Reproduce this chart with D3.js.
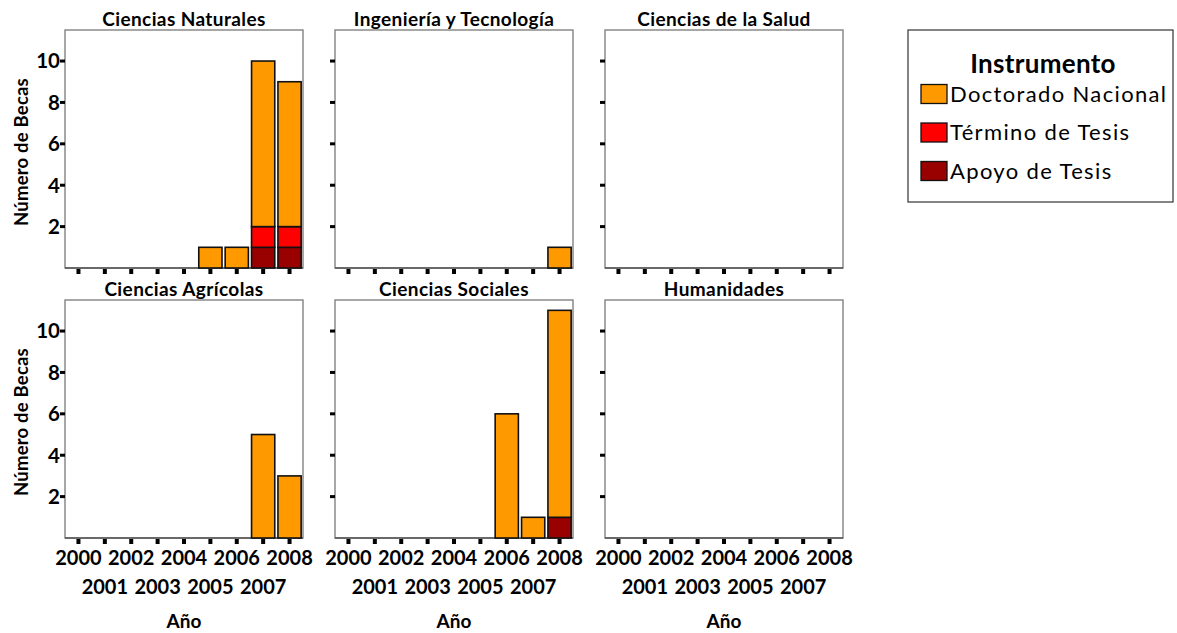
<!DOCTYPE html>
<html><head><meta charset="utf-8">
<script src="https://cdn.jsdelivr.net/npm/d3@7"></script>
<style>body{margin:0;background:#fff}svg{display:block}text{font-family:Lato,"Open Sans",sans-serif}</style>
</head><body><div id="chart"></div>
<script>
const years = ["2000","2001","2002","2003","2004","2005","2006","2007","2008"];
const panels = ["Ciencias Naturales","Ingeniería y Tecnología","Ciencias de la Salud","Ciencias Agrícolas","Ciencias Sociales","Humanidades"];
const seriesNames = ["Apoyo de Tesis","Término de Tesis","Doctorado Nacional"];
const colors = ["#990000","#FF0000","#FF9900"];
// values per panel, per year
const doctoradoNacional = [
  [0,0,0,0,0,1,1,8,7],
  [0,0,0,0,0,0,0,0,1],
  [0,0,0,0,0,0,0,0,0],
  [0,0,0,0,0,0,0,5,3],
  [0,0,0,0,0,0,6,1,10],
  [0,0,0,0,0,0,0,0,0]
];
const terminoTesis = [
  [0,0,0,0,0,0,0,1,1],
  [0,0,0,0,0,0,0,0,0],
  [0,0,0,0,0,0,0,0,0],
  [0,0,0,0,0,0,0,0,0],
  [0,0,0,0,0,0,0,0,0],
  [0,0,0,0,0,0,0,0,0]
];
const apoyoTesis = [
  [0,0,0,0,0,0,0,1,1],
  [0,0,0,0,0,0,0,0,0],
  [0,0,0,0,0,0,0,0,0],
  [0,0,0,0,0,0,0,0,0],
  [0,0,0,0,0,0,0,0,1],
  [0,0,0,0,0,0,0,0,0]
];
const yTicks = [2,4,6,8,10];
const legendOrder = ["Doctorado Nacional","Término de Tesis","Apoyo de Tesis"];

const W = 1177, H = 633;
const svg = d3.select("#chart").append("svg").attr("width", W).attr("height", H);
const pw = 238, ph = 238;
const colX = [65, 335, 605], rowY = [30, 300];
const color = d3.scaleOrdinal().domain(seriesNames).range(colors);

panels.forEach((name, i) => {
  const col = i % 3, row = Math.floor(i / 3);
  const x0 = colX[col], y0 = rowY[row];
  const x = d3.scaleBand().domain(years).range([x0, x0 + pw]).paddingInner(0.12).paddingOuter(0.07);
  const y = d3.scaleLinear().domain([0, 11.5]).range([y0 + ph, y0]);
  const g = svg.append("g");

  // frame
  g.append("rect").attr("x", x0).attr("y", y0).attr("width", pw).attr("height", ph)
    .attr("fill", "#fff").attr("stroke", "#8a8a8a").attr("stroke-width", 1.5);
  g.append("line").attr("x1", x0).attr("x2", x0 + pw).attr("y1", y0 + ph).attr("y2", y0 + ph)
    .attr("stroke", "#555").attr("stroke-width", 1.5);

  // data
  const rows = years.map((yr, j) => ({
    year: yr,
    "Apoyo de Tesis": apoyoTesis[i][j],
    "Término de Tesis": terminoTesis[i][j],
    "Doctorado Nacional": doctoradoNacional[i][j]
  }));
  const stacked = d3.stack().keys(seriesNames)(rows);
  stacked.forEach(layer => {
    g.append("g").selectAll("rect")
      .data(layer.filter(d => d[1] - d[0] > 0))
      .join("rect")
      .attr("x", d => x(d.data.year))
      .attr("width", x.bandwidth())
      .attr("y", d => y(d[1]))
      .attr("height", d => y(d[0]) - y(d[1]))
      .attr("fill", color(layer.key))
      .attr("stroke", "#111").attr("stroke-width", 1.6);
  });

  // x ticks
  g.append("g").selectAll("rect").data(years).join("rect")
    .attr("x", d => x(d) + x.bandwidth() / 2 - 2)
    .attr("y", y0 + ph + 1).attr("width", 4).attr("height", 5).attr("fill", "#000");
  // y ticks
  g.append("g").selectAll("rect").data(yTicks).join("rect")
    .attr("x", x0 - 5).attr("y", d => y(d) - 1.5).attr("width", 5).attr("height", 3).attr("fill", "#000");

  // title
  g.append("text").attr("x", x0 + pw / 2).attr("y", y0 - 4).attr("text-anchor", "middle")
    .attr("font-weight", "bold").attr("font-size", 19).attr("letter-spacing", 0.4).text(name);

  if (col === 0) {
    g.append("g").selectAll("text").data(yTicks).join("text")
      .attr("x", x0 - 5).attr("y", d => y(d)).attr("dy", "0.36em")
      .attr("text-anchor", "end").attr("font-weight", "bold").attr("font-size", 20.5)
      .text(d => d);
    g.append("text").attr("transform", `translate(28,${y0 + ph / 2 + 3}) rotate(-90)`)
      .attr("text-anchor", "middle").attr("font-weight", "bold").attr("font-size", 18.5)
      .attr("letter-spacing", 0.2)
      .text("Número de Becas");
  }
  if (row === 1) {
    g.append("g").selectAll("text").data(years).join("text")
      .attr("x", d => x(d) + x.bandwidth() / 2)
      .attr("y", (d, j) => j % 2 === 0 ? 565 : 594)
      .attr("text-anchor", "middle").attr("font-weight", "bold").attr("font-size", 20)
      .text(d => d);
    g.append("text").attr("x", x0 + pw / 2).attr("y", 628).attr("text-anchor", "middle")
      .attr("font-weight", "bold").attr("font-size", 19).text("Año");
  }
});

// legend
const lg = svg.append("g");
lg.append("rect").attr("x", 908).attr("y", 30).attr("width", 265).attr("height", 172)
  .attr("fill", "#fff").attr("stroke", "#333").attr("stroke-width", 1.2);
lg.append("text").attr("x", 1043).attr("y", 73).attr("text-anchor", "middle")
  .attr("font-weight", "bold").attr("font-size", 26).attr("letter-spacing", 0.3).text("Instrumento");
const ly = d3.scalePoint().domain(legendOrder).range([94, 171]);
const items = lg.selectAll("g.item").data(legendOrder).join("g").attr("class", "item");
items.append("rect").attr("x", 921).attr("y", d => ly(d) - 9.5).attr("width", 26).attr("height", 19)
  .attr("fill", d => color(d)).attr("stroke", "#111").attr("stroke-width", 1.3);
items.append("text").attr("x", 950).attr("y", d => ly(d)).attr("dy", "0.36em")
  .attr("font-size", 22).attr("letter-spacing", 1.35).text(d => d);
</script></body></html>
